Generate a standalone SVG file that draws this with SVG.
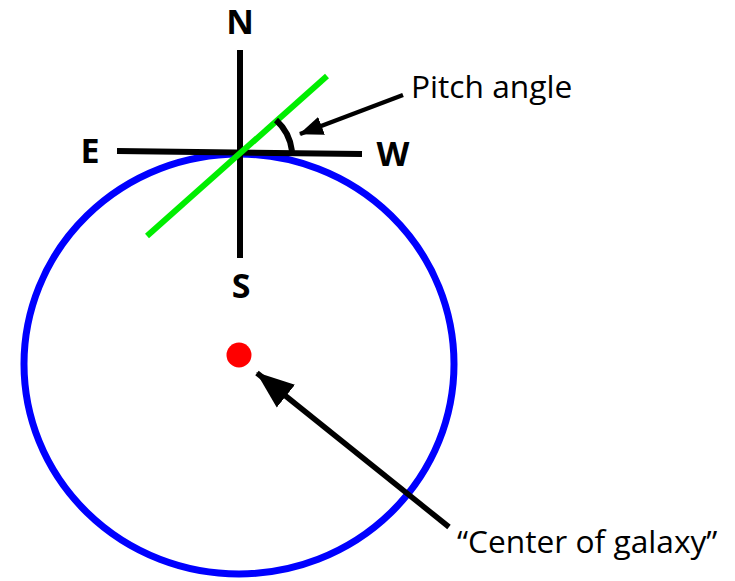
<svg xmlns="http://www.w3.org/2000/svg" width="735" height="581" viewBox="0 0 735 581">
<style>
.bold{font-family:"Open Sans","Liberation Sans",sans-serif;font-weight:bold;font-size:34px;fill:#000}
.lbl{font-family:"Open Sans","Liberation Sans",sans-serif;font-size:31.7px;fill:#000}
.blk{stroke:#000;stroke-width:6;fill:none}
</style>
<defs>
<marker id="ahS" markerWidth="24" markerHeight="20" refX="23" refY="10" orient="auto" markerUnits="userSpaceOnUse">
<path d="M0,0.5 L24,10 L0,19.5 Z" fill="#000"/>
</marker>
<marker id="ahL" markerWidth="38" markerHeight="30" refX="37" refY="15" orient="auto" markerUnits="userSpaceOnUse">
<path d="M0,0.5 L38,15 L0,29.5 Z" fill="#000"/>
</marker>
</defs>
<rect width="735" height="581" fill="#fff"/>
<g id="orbit">
<ellipse cx="239" cy="364" rx="215" ry="210" fill="none" stroke="#0000ff" stroke-width="7"/>
</g>
<g id="compass">
<line class="blk" x1="240" y1="50" x2="240" y2="258"/>
<line class="blk" x1="117" y1="151" x2="362" y2="154"/>
<line x1="327" y1="76" x2="147" y2="236" stroke="#00ee00" stroke-width="6"/>
<path class="blk" d="M276,120 A50,50 0 0 1 292,151"/>
<text class="bold" x="240" y="34" text-anchor="middle">N</text>
<text class="bold" x="241" y="298" text-anchor="middle">S</text>
<text class="bold" x="90" y="163" text-anchor="middle">E</text>
<text class="bold" x="393" y="166" text-anchor="middle">W</text>
</g>
<g id="center">
<circle cx="239" cy="355" r="12.5" fill="#ff0000"/>
</g>
<g id="connectors">
<line x1="403" y1="95" x2="300" y2="134" stroke="#000" stroke-width="4.5" marker-end="url(#ahS)"/>
<line x1="449" y1="527" x2="257" y2="373" stroke="#000" stroke-width="5.5" marker-end="url(#ahL)"/>
</g>
<g id="labels">
<text class="lbl" x="411" y="98">Pitch angle</text>
<text class="lbl" x="457" y="553">“Center of galaxy”</text>
</g>
</svg>
